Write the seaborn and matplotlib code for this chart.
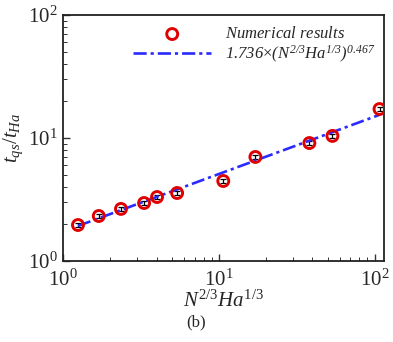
import numpy as np
import pandas as pd
import matplotlib
matplotlib.use("Agg")
import matplotlib.pyplot as plt
import seaborn as sns
from matplotlib.ticker import LogLocator, LogFormatterMathtext, NullFormatter

# Data
x_vals = [1.25, 1.70, 2.36, 3.32, 4.02, 5.41, 10.7, 17.2, 38.2, 53.7, 107.7]
y_vals = [1.96, 2.32, 2.65, 2.96, 3.31, 3.57, 4.47, 7.01, 9.10, 10.4, 17.2]
y_err = [0.07, 0.09, 0.10, 0.11, 0.12, 0.13, 0.17, 0.27, 0.35, 0.40, 0.70]
fit_coef = 1.736
fit_exp = 0.467

sns.set_style("ticks")
plt.rcParams['font.family'] = ['Liberation Serif', 'DejaVu Serif']
plt.rcParams['mathtext.fontset'] = 'custom'
plt.rcParams['mathtext.rm'] = 'Liberation Serif'
plt.rcParams['mathtext.it'] = 'Liberation Serif:italic'
plt.rcParams['mathtext.bf'] = 'Liberation Serif:bold'
plt.rcParams['mathtext.sf'] = 'Liberation Serif:italic'

df = pd.DataFrame({"x": x_vals, "y": y_vals})
xfit = np.array([x_vals[0], x_vals[-1]])
fit_df = pd.DataFrame({"x": xfit, "y": fit_coef * xfit ** fit_exp})

fig = plt.figure(figsize=(3.93, 3.42), dpi=100)
ax = fig.add_axes([0.160, 0.237, 0.817, 0.719])

ax.errorbar(x_vals, y_vals, yerr=y_err, fmt='none', ecolor='black',
            elinewidth=0.9, capsize=2.5, capthick=0.9, zorder=2)
fit_label = (r'$\mathsf{%.3f}{\times}\mathsf{(}N^{\mathsf{2/3}}Ha^{\mathsf{1/3}}'
             r'\mathsf{)}^{\mathsf{%.3f}}$' % (fit_coef, fit_exp))
sns.lineplot(data=fit_df, x="x", y="y", ax=ax, color='#2b2bff', lw=1.9,
             linestyle=(0, (5, 1.5, 1.2, 1.5)), zorder=3, label=fit_label)
sns.scatterplot(data=df, x="x", y="y", ax=ax, marker='o', s=62,
                facecolor='none', edgecolor='#e00000', linewidth=2.1, zorder=4,
                label=r'$Numerical\ results$')

ax.set_xscale('log')
ax.set_yscale('log')
ax.set_xlim(1, 115)
ax.set_ylim(1, 100)

ax.xaxis.set_major_locator(LogLocator(base=10, numticks=10))
ax.yaxis.set_major_locator(LogLocator(base=10, numticks=10))
ax.xaxis.set_minor_locator(LogLocator(base=10, subs=np.arange(2, 10), numticks=20))
ax.yaxis.set_minor_locator(LogLocator(base=10, subs=np.arange(2, 10), numticks=20))
ax.xaxis.set_major_formatter(LogFormatterMathtext())
ax.yaxis.set_major_formatter(LogFormatterMathtext())
ax.xaxis.set_minor_formatter(NullFormatter())
ax.yaxis.set_minor_formatter(NullFormatter())

ax.tick_params(which='both', direction='in', top=False, right=False, color='#333333')
ax.tick_params(which='major', length=5, width=1.0, labelsize=15)
ax.tick_params(axis='x', which='major', pad=6)
ax.tick_params(axis='y', which='major', pad=4)
ax.tick_params(which='minor', length=3, width=0.7)
for sp in ax.spines.values():
    sp.set_linewidth(1.3)
    sp.set_color('#222222')

ax.set_xlabel(r'$N^{2/3}Ha^{1/3}$', fontsize=15, labelpad=0)
ax.set_ylabel(r'$t_{qs}/t_{Ha}$', fontsize=15, labelpad=2)

handles, labels = ax.get_legend_handles_labels()
order = [1, 0]
ax.legend([handles[i] for i in order], [labels[i] for i in order],
          loc='upper left', bbox_to_anchor=(0.177, 1.008), frameon=False,
          fontsize=12, handlelength=4.7, handletextpad=0.8,
          labelspacing=0.1, borderpad=0.3)

fig.text(0.5, 0.035, '(b)', ha='center', va='bottom', fontsize=12)

fig.savefig('out.png', dpi=100)
